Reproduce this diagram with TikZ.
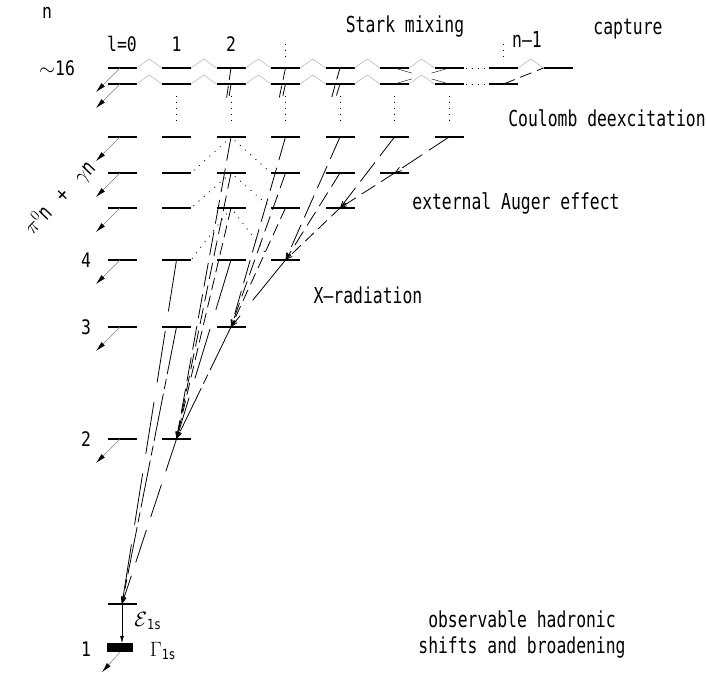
\documentclass[tikz,border=0pt]{standalone}
\usepackage{fontspec}
\setmainfont{DejaVu Sans Mono}[FakeStretch=0.82]
\newfontfamily\lblfont{DejaVu Sans Mono}[FakeStretch=0.745,Ligatures=TeX]
\usetikzlibrary{calc}
\usetikzlibrary{arrows.meta}
\tikzset{level/.style={line width=1.3pt}}
\tikzset{stark/.style={gray!55,line width=0.6pt}}
\tikzset{vdots/.style={dash pattern=on 1pt off 5pt,line width=0.8pt}}
\tikzset{auger/.style={dash pattern=on 1pt off 6pt,line width=0.8pt,shorten <=5pt,shorten >=5pt}}
\tikzset{decay/.style={gray,line width=0.5pt,-{Latex[black,length=10pt,width=5pt]}}}
\tikzset{lbl/.style={font=\lblfont\fontsize{22}{26}\selectfont}}
\tikzset{xray/.style={line width=0.8pt,-{Straight Barb[length=6pt,width=4pt]}},
		 xr2/.style={xray,dash pattern=on 34pt off 14pt},
		 xr3/.style={xray,dash pattern=on 48pt off 5pt on 10pt off 5pt},
		 xr4/.style={xray,dash pattern=on 52pt off 20pt},
		 xr5/.style={xray,dash pattern=on 12pt off 6pt},
		 xr6/.style={xray,dash pattern=on 16pt off 7pt},
		 xr7/.style={xray,dash pattern=on 24pt off 8pt},
		 xr16/.style={line width=0.8pt,dash pattern=on 12pt off 6pt}}

\begin{document}
\begin{tikzpicture}[x=1pt,y=-1pt,font=\fontsize{20}{24}\selectfont]
	\useasboundingbox (0,0) rectangle (707,674);

	% levels n = 2 ... 7
	\foreach \n/\y/\m in {2/439/1,3/327/2,4/260/3,5/208/4,6/173/5,7/137/6}
		\foreach \l in {0,...,\m} {
			\coordinate (L\n-\l) at (122+54.5*\l,\y);
			\draw[level] (L\n-\l) ++(-14.5,0) -- ++(29,0);
		}

	% n ~ 16
	\foreach \l in {0,...,8} {
		\coordinate (A-\l) at (122+54.5*\l,68);
		\coordinate (B-\l) at (122+54.5*\l,84);
	}
	\foreach \l in {0,...,7}
		\draw[level] (A-\l) ++(-14.5,0) -- ++(29,0) (B-\l) ++(-14.5,0) -- ++(29,0);
	\draw[level] (A-8) ++(-14.5,0) -- ++(29,0);

	% Stark mixing
	\foreach \l in {0,...,5}
		\draw[stark] (A-\l) ++(14.5,0) -- ++(12.75,-9) -- ++(12.75,9)
			(B-\l) ++(14.5,0) -- ++(12.75,-9) -- ++(12.75,9);
	\draw[stark] (A-7) ++(14.5,0) -- ++(12.75,-9) -- ++(12.75,9);
	\draw (A-5) -- ($(A-5)!.32!(B-6)$) ($(A-5)!.68!(B-6)$) -- (B-6);
	\draw (B-5) -- ($(B-5)!.32!(A-6)$) ($(B-5)!.68!(A-6)$) -- (A-6);
	\foreach \r in {A,B}
		\draw[vdots] ($(\r-6)+(17,0)$) -- ($(\r-7)+(-16,0)$);
	\draw[xr16] (B-7) -- ($(A-8)+(-14.5,0)$);

	\foreach \l in {1,...,6}
		\draw[vdots] ($(B-\l)+(0,12)$) -- ($(L7-\l)+(0,-12)$);
	\foreach \l in {3,7}
		\draw[vdots] ($(A-\l)+(0,-24)$) -- ($(A-\l)+(0,-6)$);

	% external Auger effect
	\foreach \n/\m in {7/6,6/5,5/4}
		\draw[auger] (L\n-2) -- ($(L\m-1)+(14.5,0)$)
			(L\n-2) -- ($(L\m-3)+(-14.5,0)$);

	% n = 1
	\coordinate (L1) at (122,604);
	\draw[level] (L1) ++(-14.5,0) -- ++(29,0);
	\node[fill,minimum width=26pt,minimum height=9pt,inner sep=0pt] (width) at (120,647.5) {};
	\draw[-{Latex[length=7pt,width=4pt]}] (L1) -- (L1 |- width.north);

	% X-radiation
	\foreach \n in {2,3,4} \draw[xr\n] (L\n-1) -- (L1);
	\foreach \n in {3,...,7} \draw[xr\n] (L\n-2) -- (L2-1);
	\foreach \n in {4,...,7} \draw[xr\n] (L\n-3) -- (L3-2);
	\foreach \n in {5,6,7} \draw[xr\n] (L\n-4) -- (L4-3);
	\foreach \n in {6,7} \draw[xr\n] (L\n-5) -- (L5-4);
	\draw[xr7] (L7-6) -- (L6-5);
	\begin{scope}
		\clip (0,60) rectangle (707,101);
		\foreach \r in {A,B} {
			\draw[xr16] (\r-2) -- (L2-1);
			\draw[xr16] (\r-3) -- (L3-2);
			\draw[xr16] (\r-4) -- (L4-3);
		}
	\end{scope}

	% pi0 n + gamma n
	\foreach \p in {A-0,B-0,L7-0,L6-0,L5-0,L4-0,L3-0,L2-0}
		\draw[decay] ($(\p)+(-2,0)$) -- ++(-24,24);
	\draw[decay] (width.south) -- ++(-18,20);

	\node (n) at (47,13) {n};
	\node (n16) at (57,68) {$\sim$16};
	\foreach \n in {2,3,4}
		\node (num\n) at ($(L\n-0)+(-36,0)$) {\n};
	\node (num1) at (86,649) {1};
	\node (l0) at ($(A-0)+(0,-24)$) {l=0};
	\node (l1) at ($(A-1)+(0,-24)$) {1};
	\node (l2) at ($(A-2)+(0,-24)$) {2};
	\node[lbl,rotate=46] (pigamma) at (60,198) {$\pi^0$n\hspace{0.7em}+\hspace{0.7em}$\gamma$n};
	\node[lbl] (stark) at (405,27) {Stark mixing};
	\node[lbl] (nm1) at (527,39) {n--1};
	\node[lbl] (capture) at (628,29) {capture};
	\node[lbl] (coulomb) at (607,118) {Coulomb deexcitation};
	\node[lbl] (auger) at (516,203) {external Auger effect};
	\node[lbl] (xrad) at (368,295) {X--radiation};
	\node[lbl,align=center] (hadr) at (522,634) {observable hadronic\\shifts and broadening};
	\node (eps) at (148,621) {$\mathcal{E}$\textsubscript{1s}};
	\node (gam) at (163,651) {$\Gamma$\textsubscript{1s}};
\end{tikzpicture}
\end{document}
